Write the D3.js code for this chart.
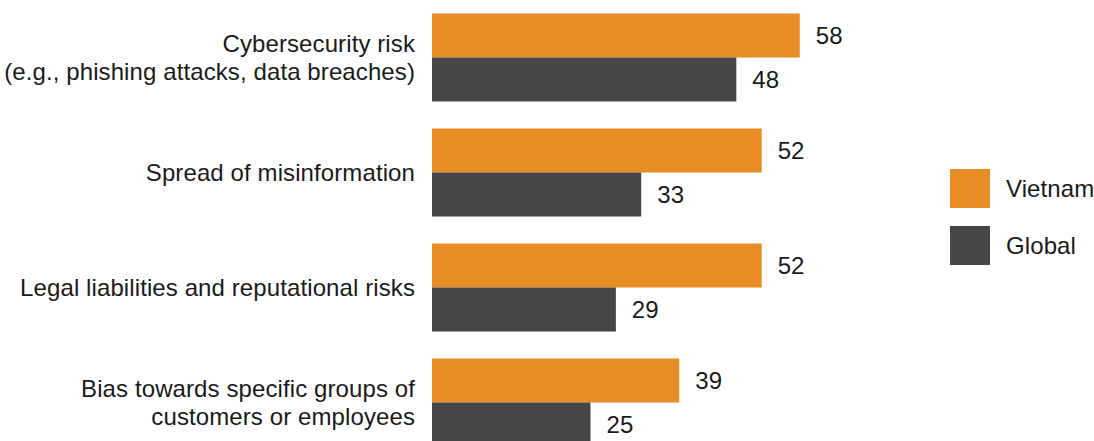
<!DOCTYPE html>
<html>
<head>
<meta charset="utf-8">
<script src="https://cdn.jsdelivr.net/npm/d3@7"></script>
<style>
  html, body { margin: 0; padding: 0; background: #ffffff; }
  svg { display: block; }
  text { font-family: "Liberation Sans", Arial, Helvetica, sans-serif; fill: #1a1a1a; letter-spacing: 0.1px; }
</style>
</head>
<body>
<svg id="chart" width="1094" height="441"></svg>
<script>
// Risk categories (each label may span several lines)
const categories = [
  ["Cybersecurity risk", "(e.g., phishing attacks, data breaches)"],
  ["Spread of misinformation"],
  ["Legal liabilities and reputational risks"],
  ["Bias towards specific groups of", "customers or employees"]
];
const seriesNames = ["Vietnam", "Global"];
const vietnamValues = [58, 52, 52, 39];
const globalValues = [48, 33, 29, 25];
const seriesColors = ["#e88c25", "#464646"];

const svg = d3.select("#chart");
const keys = categories.map((c, i) => i);
const fontSize = 24;

const y = d3.scaleBand()
  .domain(keys)
  .range([0, 460])
  .paddingInner(0.235)
  .paddingOuter(0.1175);

const ySub = d3.scaleBand()
  .domain(seriesNames)
  .range([0, y.bandwidth()]);

const x = d3.scaleLinear().domain([0, 100]).range([432, 1066]);

const rows = keys.map(i => ({
  i,
  label: categories[i],
  values: [vietnamValues[i], globalValues[i]]
}));

const groups = svg.selectAll("g.row")
  .data(rows)
  .join("g")
  .attr("class", "row")
  .attr("transform", d => `translate(0,${y(d.i)})`);

// bars
groups.selectAll("rect")
  .data(d => d.values.map((v, k) => ({ v, k })))
  .join("rect")
  .attr("x", x(0))
  .attr("y", d => ySub(seriesNames[d.k]))
  .attr("width", d => x(d.v) - x(0))
  .attr("height", ySub.bandwidth())
  .attr("fill", d => seriesColors[d.k]);

// value labels
groups.selectAll("text.val")
  .data(d => d.values.map((v, k) => ({ v, k })))
  .join("text")
  .attr("class", "val")
  .attr("x", d => x(d.v) + 16)
  .attr("y", d => ySub(seriesNames[d.k]) + ySub.bandwidth() / 2)
  .attr("dy", "0.35em")
  .attr("font-size", fontSize)
  .text(d => d.v);

// category labels
const lineH = 28;
groups.append("text")
  .attr("class", "cat")
  .attr("text-anchor", "end")
  .attr("font-size", fontSize)
  .each(function (d) {
    const n = d.label.length;
    const t = d3.select(this);
    d.label.forEach((line, j) => {
      t.append("tspan")
        .attr("x", 415)
        .attr("y", y.bandwidth() / 2 + (j - (n - 1) / 2) * lineH)
        .attr("dy", "0.35em")
        .text(line);
    });
  });

// legend
const legend = svg.append("g").attr("transform", "translate(950,169)");
const leg = legend.selectAll("g")
  .data(seriesNames)
  .join("g")
  .attr("transform", (d, i) => `translate(0,${i * 57})`);
leg.append("rect")
  .attr("width", 40)
  .attr("height", 39)
  .attr("fill", (d, i) => seriesColors[i]);
leg.append("text")
  .attr("x", 56)
  .attr("y", 20)
  .attr("dy", "0.35em")
  .attr("font-size", fontSize)
  .text(d => d);
</script>
</body>
</html>
